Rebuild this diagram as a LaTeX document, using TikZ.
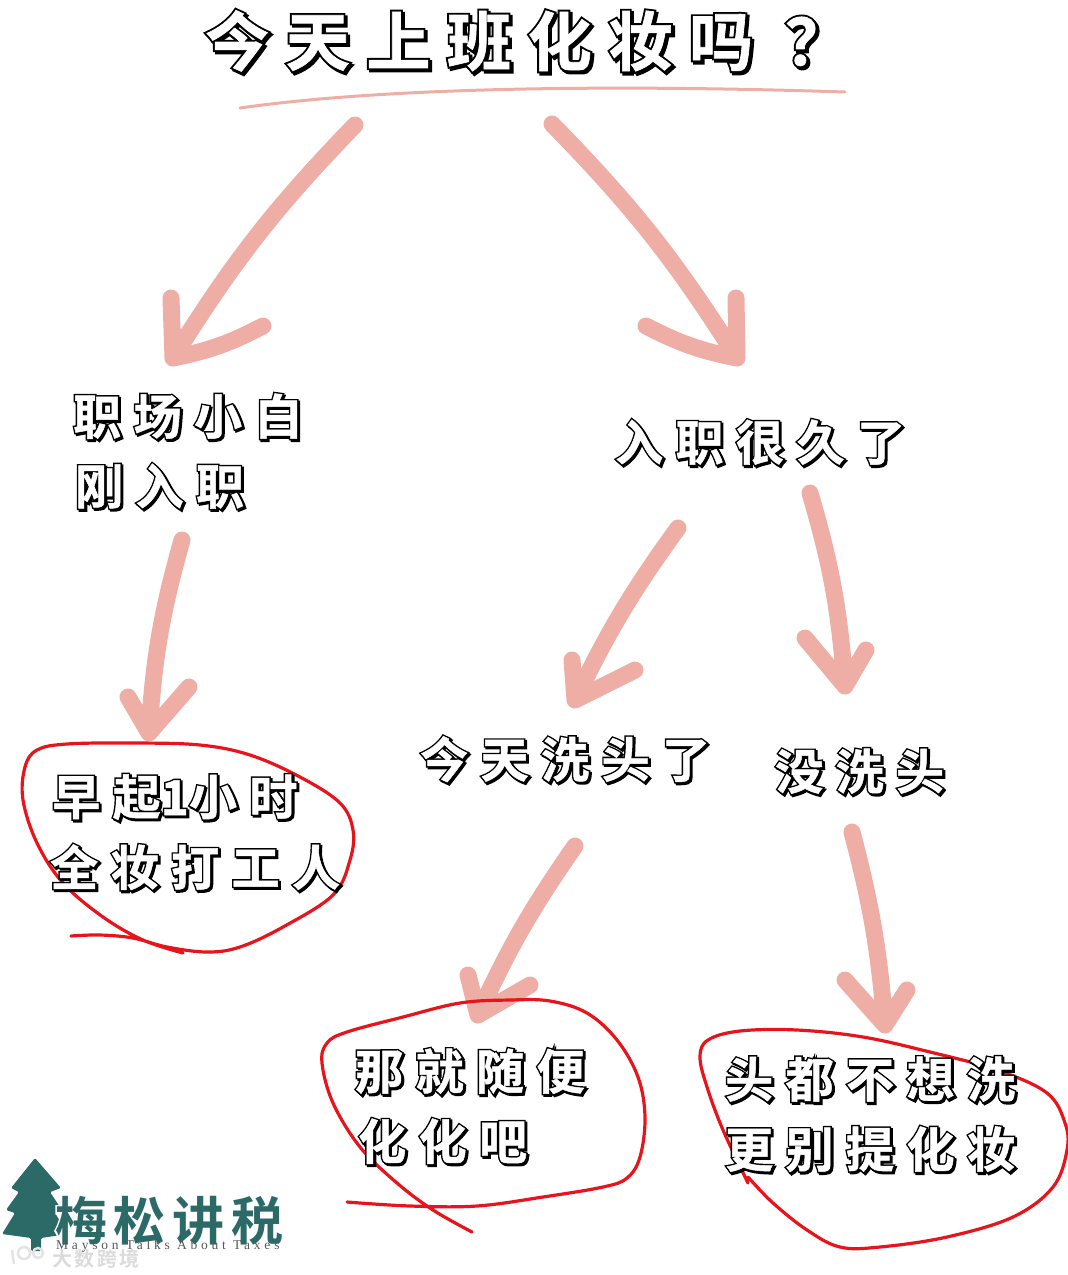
\documentclass[tikz,border=0pt]{standalone}
\usepackage{fontspec}
\usepackage{xcolor}
\setmainfont{Liberation Serif}
\newfontfamily\puffyfill[LetterSpace=26,FakeBold=1]{Noto Sans CJK SC Bold}
\newfontfamily\puffyline[LetterSpace=26,FakeBold=7]{Noto Sans CJK SC Bold}
\newfontfamily\logofont[LetterSpace=13]{Noto Sans CJK SC Bold}
\newfontfamily\logohalo[LetterSpace=13,FakeBold=7]{Noto Sans CJK SC Bold}
\definecolor{penpink}{HTML}{EEADA5}
\definecolor{loopred}{HTML}{E8141C}
\definecolor{logoteal}{HTML}{2C6A68}
\newcommand{\puffy}[1]{\rlap{\kern.035em\raisebox{-.035em}{\puffyline\color{black}#1}}\rlap{\puffyline\color{black}#1}{\puffyfill\color{white}#1}}
\begin{document}
\begin{tikzpicture}[
  x=1pt, y=-1pt,
  every node/.style={inner sep=0pt, anchor=west},
  bigtext/.style={font=\fontsize{64}{64}\selectfont},
  puffytext/.style={font=\fontsize{48}{48}\selectfont},
  penarrow/.style={draw=penpink, line width=17pt, line cap=round, line join=round},
  underline/.style={draw=penpink, line width=3pt, line cap=round},
  redloop/.style={draw=loopred, line width=3.2pt, line cap=round, line join=round}
]
\useasboundingbox (0,0) rectangle (1068,1275);

% arrow ends
\coordinate (startL) at (355,125);
\coordinate (tipL) at (173,358);
\coordinate (startR) at (552,124);
\coordinate (tipR) at (737,358);
\coordinate (startNew) at (182,540);
\coordinate (tipNew) at (149,733);
\coordinate (startWash) at (678,528);
\coordinate (tipWash) at (575,700);
\coordinate (startDirty) at (810,493);
\coordinate (tipDirty) at (845,686);
\coordinate (startAny) at (575,846);
\coordinate (tipAny) at (478,1015);
\coordinate (startNo) at (852,832);
\coordinate (tipNo) at (885,1025);
\coordinate (ruleL) at (240,108);
\coordinate (ruleR) at (845,92);

\draw[underline] (ruleL) .. controls (380,88) and (600,84) .. (ruleR);

\draw[penarrow] (startL) to[bend right=6] (tipL) ++(-2,-60) to (tipL) ++(90,-32) to[bend left=8] (tipL);
\draw[penarrow] (startR) to[bend left=6] (tipR) ++(-1,-60) to (tipR) ++(-91,-32) to[bend right=8] (tipR);
\draw[penarrow] (startNew) to[bend right=6] (tipNew) ++(-21,-36) to (tipNew) ++(40,-46) to (tipNew);
\draw[penarrow] (startWash) to[bend right=5] (tipWash) ++(-3,-40) to (tipWash) ++(60,-30) to (tipWash);
\draw[penarrow] (startDirty) to[bend left=6] (tipDirty) ++(-40,-48) to (tipDirty) ++(21,-36) to (tipDirty);
\draw[penarrow] (startAny) to[bend right=5] (tipAny) ++(-10,-40) to (tipAny) ++(52,-30) to (tipAny);
\draw[penarrow] (startNo) to[bend left=5] (tipNo) ++(-40,-45) to (tipNo) ++(22,-35) to (tipNo);

% circled answers
\draw[redloop] plot[smooth, tension=.6] coordinates {(71,936) (100,935) (133,938) (167,947) (207,952) (240,947) (283,927) (333,895) (350,860) (353,830) (340,803) (300,777) (250,755) (200,745) (133,743) (67,744) (37,750) (25,767) (23,800) (37,843) (63,883) (103,917) (143,940) (183,953)};
\draw[redloop] plot[smooth, tension=.6] coordinates {(347,1202) (410,1206) (477,1206) (543,1197) (603,1187) (627,1178) (640,1157) (645,1117) (638,1077) (617,1040) (587,1013) (550,1001) (510,1000) (460,1003) (403,1017) (347,1032) (327,1043) (322,1063) (333,1103) (360,1147) (397,1183) (433,1210) (472,1232)};
\draw[redloop] plot[smooth, tension=.6] coordinates {(748,1183) (723,1130) (707,1087) (700,1057) (708,1040) (740,1031) (797,1030) (863,1037) (930,1052) (997,1070) (1047,1093) (1065,1123) (1067,1150) (1053,1187) (1013,1217) (947,1237) (880,1247) (840,1247) (807,1230) (773,1203) (748,1177)};

\node[bigtext] (title) at (205,42) {\puffy{今天上班化妆吗\hspace{.5em}？}};
\node[puffytext] (newA) at (73,417) {\puffy{职场小白}};
\node[puffytext] (newB) at (75,487) {\puffy{刚入职}};
\node[puffytext] (longtime) at (615,443) {\puffy{入职很久了}};
\node[puffytext] (washed) at (420,760) {\puffy{今天洗头了}};
\node[puffytext] (unwashed) at (775,772) {\puffy{没洗头}};
\node[puffytext] (earlyA) at (52,798) {\puffy{早起\hspace{0pt}1\hspace{0pt}小时}};
\node[puffytext] (earlyB) at (50,868) {\puffy{全妆打工人}};
\node[puffytext] (anyA) at (355,1072) {\puffy{那就随便}};
\node[puffytext] (anyB) at (358,1142) {\puffy{化化吧}};
\node[puffytext] (noneA) at (725,1080) {\puffy{头都不想洗}};
\node[puffytext] (noneB) at (725,1150) {\puffy{更别提化妆}};

% logo corner
\fill[logoteal, rounded corners=1.5pt] (35,1158) -- (61,1188) -- (50,1192) -- (62,1210) -- (55,1213) -- (68,1234) -- (41,1238) -- (41,1251) -- (31,1251) -- (31,1238) -- (2,1234) -- (15,1213) -- (6,1210) -- (19,1192) -- (11,1188) -- cycle;
\node[font=\fontsize{52}{52}\selectfont] (logoname) at (55,1221) {\rlap{\logohalo\color{white}梅松讲税}{\logofont\color{logoteal}梅松讲税}};
\draw[gray!22, line width=2.5pt] (12,1250) -- (14,1264) (24,1253) circle[radius=6] (38,1253) circle[radius=5];
\node[text=gray!28, font=\fontsize{20}{20}\logofont] (watermark) at (52,1259) {大数跨境};
\node[text=black!65, font=\fontsize{13.5}{13.5}\selectfont\addfontfeature{LetterSpace=28}] (logosub) at (56,1246) {Mayson Talks About Taxes};
\end{tikzpicture}
\end{document}
